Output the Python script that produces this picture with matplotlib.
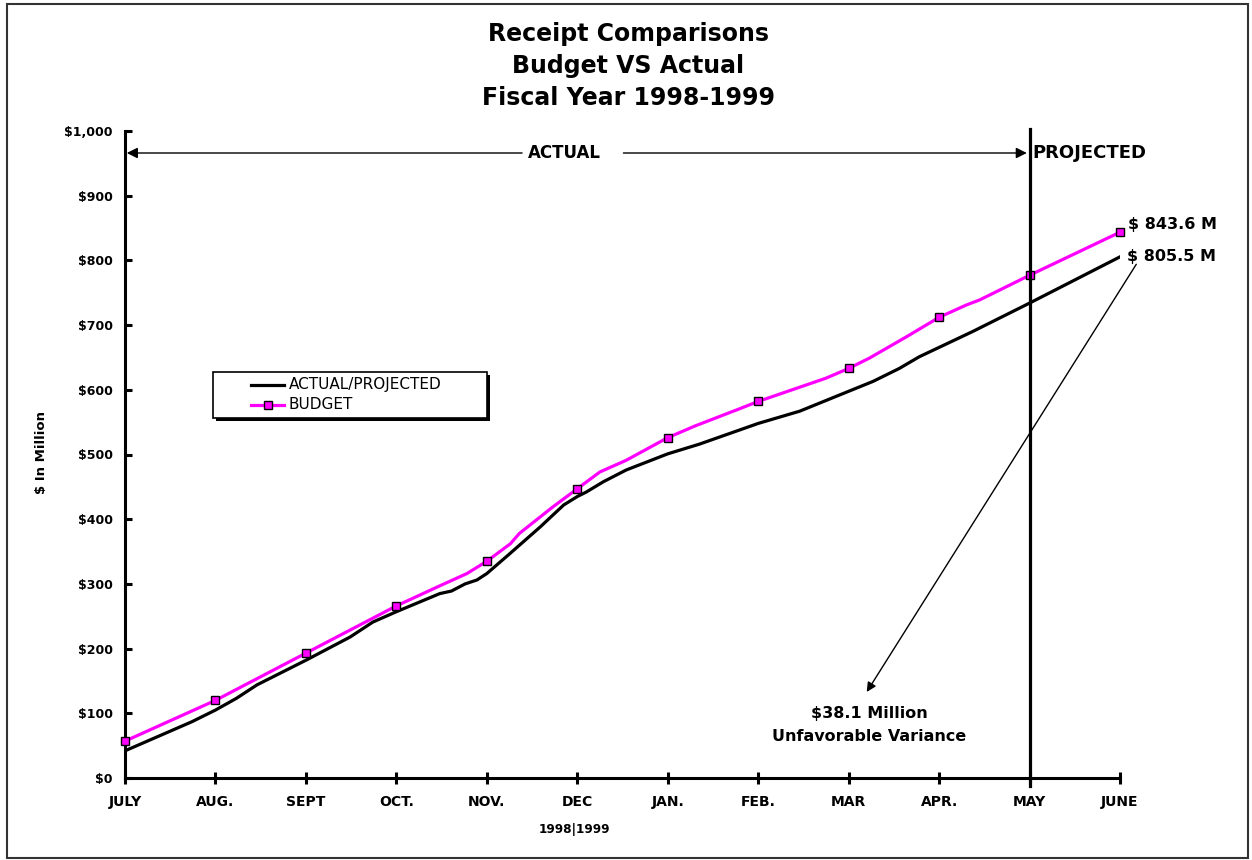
import matplotlib.pyplot as plt
from matplotlib.patches import Rectangle
from matplotlib.lines import Line2D

# month labels (fiscal year July 1998 - June 1999)
months = ['JULY', 'AUG.', 'SEPT', 'OCT.', 'NOV.', 'DEC', 'JAN.', 'FEB.',
          'MAR', 'APR.', 'MAY', 'JUNE']

# budget values at each month end ($ million), marked with squares
budget_monthly = [57, 120, 193, 266, 335, 447, 526, 582, 633, 712, 777, 843.6]

# budget curve (x = month index)
budget_x = [0, 1, 2, 3, 3.48, 3.78, 4, 4.26, 4.36, 4.73, 5, 5.25, 5.54, 6,
            6.3, 6.8, 7, 7.75, 8, 8.23, 8.64, 9, 9.3, 9.45, 10, 11]
budget_y = [57, 120, 193, 266, 297, 316, 335, 362, 378, 419, 447, 473, 491,
            526, 544, 571, 582, 618, 633, 649, 682, 712, 731, 739, 777, 843.6]

# actual / projected curve
actual_x = [0, 0.74, 1, 1.23, 1.46, 2, 2.49, 2.74, 3, 3.48, 3.61, 3.76, 3.89,
            4, 4.24, 4.59, 4.85, 5, 5.1, 5.29, 5.54, 6, 6.35, 7, 7.46, 7.9,
            8.27, 8.56, 8.78, 9.37, 10, 11]
actual_y = [42, 87, 105, 123, 144, 182, 218, 241, 257, 285, 289, 300, 306,
            316, 345, 388, 422, 435, 442, 458, 476, 501, 516, 548, 567, 592,
            613, 633, 651, 690, 734, 805.5]

y_ticks = list(range(0, 1001, 100))
y_tick_labels = ['$0', '$100', '$200', '$300', '$400', '$500', '$600', '$700',
                 '$800', '$900', '$1,000']

W, H = 1252, 860


def px(x, y):
    # pixel position (from top-left) -> figure fraction
    return x / W, 1 - y / H


fig = plt.figure(figsize=(W / 100, H / 100), dpi=100)
ax = fig.add_axes([125 / W, 1 - 778 / H, 995 / W, 647 / H])

magenta = '#ff00ff'
ax.plot(actual_x, actual_y, color='black', lw=2.3, solid_joinstyle='round', zorder=3)
ax.plot(budget_x, budget_y, color=magenta, lw=2.3, solid_joinstyle='round', zorder=4)
ax.plot(range(len(months)), budget_monthly, ls='none', marker='s', ms=5.8,
        mfc=magenta, mec='black', mew=1.0, zorder=5, clip_on=False)

ax.set_xlim(0, len(months) - 1)
ax.set_ylim(0, 1000)
for s in ['top', 'right']:
    ax.spines[s].set_visible(False)
for s in ['left', 'bottom']:
    ax.spines[s].set_linewidth(2.2)

ax.set_xticks(range(len(months)))
ax.set_xticklabels(months, fontsize=10, fontweight='bold')
ax.tick_params(axis='x', direction='inout', length=8, width=2.2, pad=8)
ax.set_yticks(y_ticks)
ax.set_yticklabels(y_tick_labels, fontsize=9, fontweight='bold')
ax.tick_params(axis='y', direction='in', length=5, width=2.2, pad=9)

# projection divider at May
may = months.index('MAY')
ax.axvline(may, ymin=-0.012, ymax=1.003, color='black', lw=2.3, clip_on=False, zorder=6)

# ACTUAL / PROJECTED arrows
arrow_y = 966
ax.annotate('', xy=(0.02, arrow_y), xytext=(4.39, arrow_y),
            arrowprops=dict(arrowstyle='-|>', color='black', lw=1.0, mutation_scale=16,
                            shrinkA=0, shrinkB=0))
ax.annotate('', xy=(may - 0.03, arrow_y), xytext=(5.51, arrow_y),
            arrowprops=dict(arrowstyle='-|>', color='black', lw=1.0, mutation_scale=16,
                            shrinkA=0, shrinkB=0))
ax.text(4.86, arrow_y, 'ACTUAL', fontsize=12, fontweight='bold', ha='center', va='center')
ax.text(may + 0.03, arrow_y, 'PROJECTED', fontsize=13, fontweight='bold',
        ha='left', va='center', clip_on=False)

# end values
ax.text(11.09, 855, '$ 843.6 M', fontsize=11.5, fontweight='bold', ha='left', va='center',
        clip_on=False)
ax.text(11.08, 806, '$ 805.5 M', fontsize=11.5, fontweight='bold', ha='left', va='center',
        clip_on=False)

# variance callout
ax.annotate('', xy=(8.2, 133), xytext=(11.18, 794),
            arrowprops=dict(arrowstyle='-|>', color='black', lw=1.0, mutation_scale=14,
                            shrinkA=0, shrinkB=0), annotation_clip=False)
ax.text(8.23, 100, '$38.1 Million', fontsize=11.5, fontweight='bold', ha='center', va='center')
ax.text(8.23, 64, 'Unfavorable Variance', fontsize=11.5, fontweight='bold', ha='center',
        va='center')

# titles
fig.text(*px(628, 41), 'Receipt Comparisons', fontsize=17, fontweight='bold', ha='center',
         va='baseline')
fig.text(*px(628, 73), 'Budget VS Actual', fontsize=17, fontweight='bold', ha='center',
         va='baseline')
fig.text(*px(628, 105), 'Fiscal Year 1998-1999', fontsize=17, fontweight='bold', ha='center',
         va='baseline')
fig.text(*px(42, 453), '$ In Million', fontsize=9.5, fontweight='bold', rotation=90,
         ha='center', va='center')
fig.text(*px(574, 829), '1998|1999', fontsize=8.7, fontweight='bold', ha='center', va='center')

# legend box with solid shadow
lx0, ly0, lx1, ly1 = 213, 372, 487, 418
fig.patches.append(Rectangle(px(lx0 + 3, ly1 + 3), (lx1 - lx0) / W, (ly1 - ly0) / H,
                             transform=fig.transFigure, facecolor='black', edgecolor='black',
                             lw=0, zorder=10))
fig.patches.append(Rectangle(px(lx0, ly1), (lx1 - lx0) / W, (ly1 - ly0) / H,
                             transform=fig.transFigure, facecolor='white', edgecolor='black',
                             lw=1.2, zorder=11))
hx0, hx1 = 251, 284
for row_y, color, mk, label in [(385, 'black', None, 'ACTUAL/PROJECTED'),
                                (405, magenta, 's', 'BUDGET')]:
    fx0, fy = px(hx0, row_y)
    fx1, _ = px(hx1, row_y)
    fig.lines.append(Line2D([fx0, fx1], [fy, fy], transform=fig.transFigure, color=color,
                            lw=2.3, zorder=12))
    if mk:
        fig.lines.append(Line2D([(fx0 + fx1) / 2], [fy], transform=fig.transFigure,
                                marker=mk, ms=5.8, mfc=magenta, mec='black', mew=1.0,
                                ls='none', zorder=13))
    fig.text(*px(289, row_y), label, fontsize=11, ha='left', va='center', zorder=12)

# outer border
fig.patches.append(Rectangle(px(7, 858), 1241 / W, 854 / H, transform=fig.transFigure,
                             fill=False, edgecolor='#333333', lw=1.5, zorder=20))

fig.savefig('out.png', dpi=100)
